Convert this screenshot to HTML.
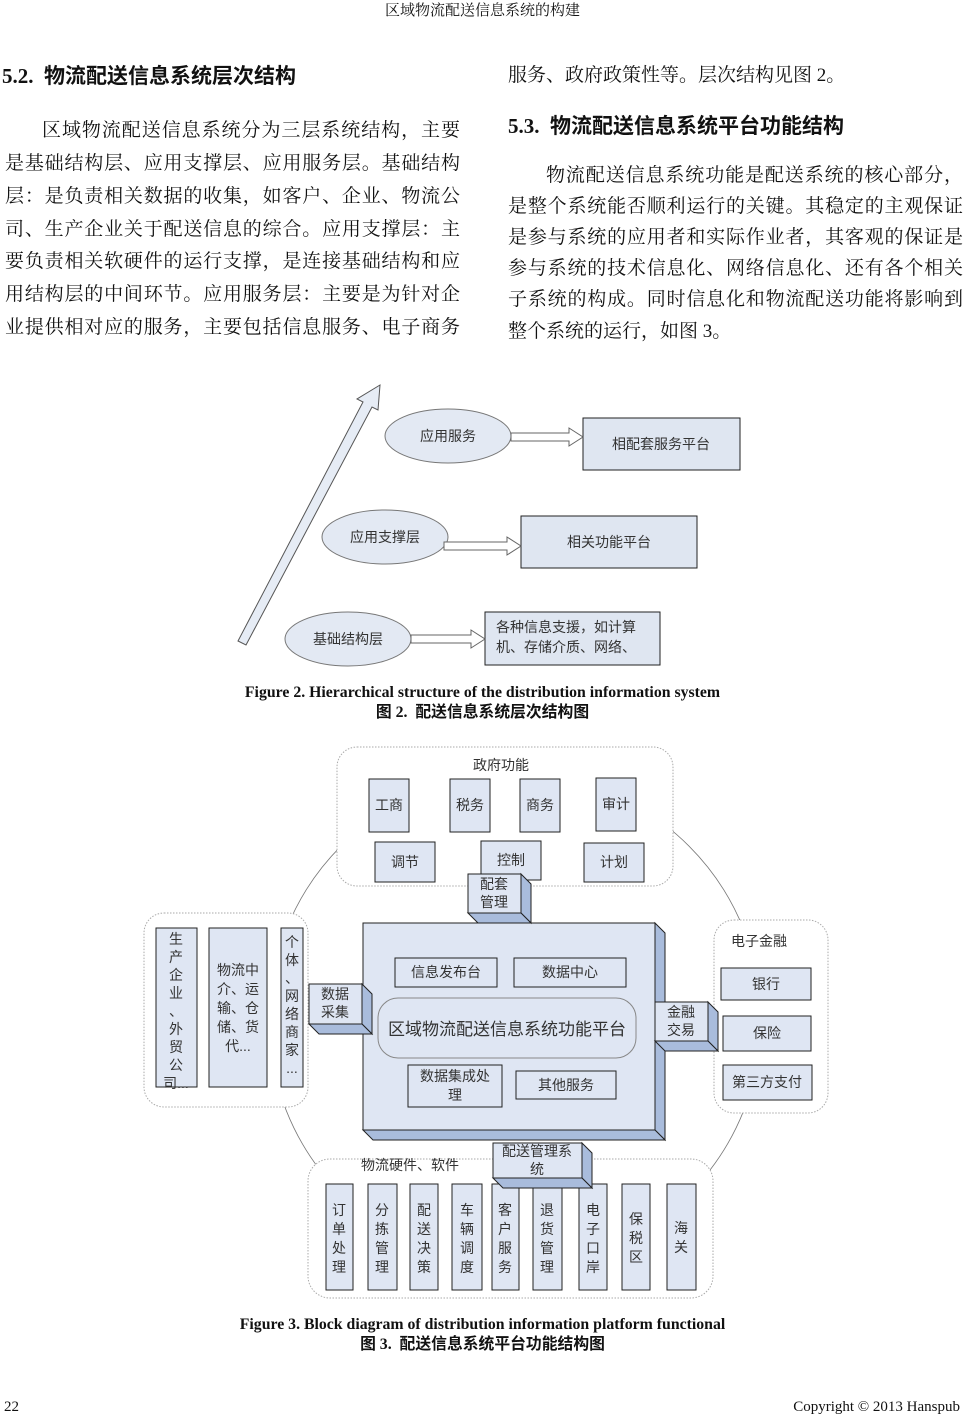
<!DOCTYPE html>
<html><head><meta charset="utf-8"><style>
body{margin:0;width:965px;height:1414px;position:relative;background:#fff;overflow:hidden;font-family:"Liberation Serif","Noto Serif CJK SC",serif;color:#111}
.l{position:absolute;font-size:19px;line-height:22px;white-space:nowrap;height:22px}
.j{text-align:justify;text-align-last:justify;white-space:normal;overflow:hidden}
.h{position:absolute;font-family:"Liberation Serif","Noto Sans CJK SC",sans-serif;font-weight:bold;font-size:21px;line-height:24px;white-space:nowrap}
.c{position:absolute;left:0;width:965px;text-align:center;font-weight:bold;font-size:15.8px;line-height:18px;font-family:"Liberation Serif","Noto Sans CJK SC",serif}
svg{position:absolute;left:0;top:0}
svg text{font-family:"Liberation Sans","Noto Sans CJK SC",sans-serif;fill:#333;font-size:14px}
</style></head><body>
<div class="l" style="left:0;width:965px;text-align:center;top:0;font-size:15px">区域物流配送信息系统的构建</div>
<div class="h" style="left:2px;top:64px">5.2.&nbsp; 物流配送信息系统层次结构</div>
<div class="h" style="left:508px;top:114px">5.3.&nbsp; 物流配送信息系统平台功能结构</div>
<div class="l j" style="left:42px;width:418px;top:120px">区域物流配送信息系统分为三层系统结构，主要</div>
<div class="l j" style="left:5px;width:455px;top:153px">是基础结构层、应用支撑层、应用服务层。基础结构</div>
<div class="l j" style="left:5px;width:455px;top:186px">层：是负责相关数据的收集，如客户、企业、物流公</div>
<div class="l j" style="left:5px;width:455px;top:219px">司、生产企业关于配送信息的综合。应用支撑层：主</div>
<div class="l j" style="left:5px;width:455px;top:251px">要负责相关软硬件的运行支撑，是连接基础结构和应</div>
<div class="l j" style="left:5px;width:455px;top:284px">用结构层的中间环节。应用服务层：主要是为针对企</div>
<div class="l j" style="left:5px;width:455px;top:317px">业提供相对应的服务，主要包括信息服务、电子商务</div>
<div class="l" style="left:508px;top:65px">服务、政府政策性等。层次结构见图 2。</div>
<div class="l j" style="left:546px;width:417px;top:165px">物流配送信息系统功能是配送系统的核心部分，</div>
<div class="l j" style="left:508px;width:455px;top:196px">是整个系统能否顺利运行的关键。其稳定的主观保证</div>
<div class="l j" style="left:508px;width:455px;top:227px">是参与系统的应用者和实际作业者，其客观的保证是</div>
<div class="l j" style="left:508px;width:455px;top:258px">参与系统的技术信息化、网络信息化、还有各个相关</div>
<div class="l j" style="left:508px;width:455px;top:289px">子系统的构成。同时信息化和物流配送功能将影响到</div>
<div class="l" style="left:508px;top:321px">整个系统的运行，如图 3。</div>

<svg width="965" height="1414" viewBox="0 0 965 1414">
<g stroke="#222" stroke-width="1">
<polygon points="246,645 372,407 378,410 380,385 357,399 363,402 238,641" fill="#e6ecf5" stroke="#555"/>
<ellipse cx="448" cy="436" rx="63" ry="27" fill="#e3e9f3" stroke="#777"/>
<ellipse cx="385" cy="537" rx="63" ry="27" fill="#e3e9f3" stroke="#777"/>
<ellipse cx="348" cy="639" rx="63" ry="27" fill="#e3e9f3" stroke="#777"/>
<rect x="583" y="418" width="157" height="52" fill="#dfe6f1"/>
<rect x="521" y="516" width="176" height="52" fill="#dfe6f1"/>
<rect x="485" y="612" width="175" height="53" fill="#dfe6f1"/>
<polygon points="511,433 569,433 569,428 583,437 569,446 569,441 511,441" fill="#fff" stroke="#666"/>
<polygon points="444,542 507,542 507,537 521,546 507,555 507,550 444,550" fill="#fff" stroke="#666"/>
<polygon points="411,635 471,635 471,630 485,639 471,648 471,643 411,643" fill="#fff" stroke="#666"/>
</g>
<text x="448" y="441" text-anchor="middle">应用服务</text>
<text x="661" y="449" text-anchor="middle">相配套服务平台</text>
<text x="385" y="542" text-anchor="middle">应用支撑层</text>
<text x="609" y="547" text-anchor="middle">相关功能平台</text>
<text x="348" y="644" text-anchor="middle">基础结构层</text>
<text x="496" y="632">各种信息支援，如计算</text>
<text x="496" y="652">机、存储介质、网络、</text>

<circle cx="515" cy="1020" r="246" fill="none" stroke="#777" stroke-width="0.8"/>
<g stroke="#aaa" stroke-width="1" stroke-dasharray="1.5,1.5">
<rect x="337" y="747" width="336" height="139" rx="20" fill="#fff"/>
<rect x="144" y="913" width="164" height="194" rx="20" fill="#fff"/>
<rect x="714" y="920" width="114" height="193" rx="20" fill="#fff"/>
<rect x="308" y="1159" width="405" height="139" rx="22" fill="#fff"/>
</g>
<g stroke="#222" stroke-width="1" fill="#dfe6f3">
<rect x="369" y="779" width="40" height="53"/>
<rect x="450" y="779" width="40" height="53"/>
<rect x="520" y="779" width="40" height="53"/>
<rect x="596" y="778" width="40" height="53"/>
<rect x="375" y="842" width="60" height="40"/>
<rect x="481" y="841" width="60" height="39"/>
<rect x="584" y="843" width="60" height="39"/>
<rect x="156" y="928" width="41" height="159"/>
<rect x="209" y="928" width="58" height="159"/>
<rect x="281" y="928" width="22" height="159"/>
<rect x="721" y="968" width="90" height="32"/>
<rect x="723" y="1016" width="88" height="35"/>
<rect x="723" y="1065" width="89" height="35"/>
<rect x="326" y="1184" width="27" height="106"/>
<rect x="368" y="1184" width="29" height="106"/>
<rect x="410" y="1184" width="28" height="106"/>
<rect x="452" y="1184" width="30" height="106"/>
<rect x="492" y="1184" width="27" height="106"/>
<rect x="533" y="1184" width="29" height="106"/>
<rect x="579" y="1184" width="28" height="106"/>
<rect x="622" y="1184" width="28" height="106"/>
<rect x="667" y="1184" width="29" height="106"/>
</g>
<g stroke="#222" stroke-width="1">
<polygon points="655,923 665,933 665,1140 655,1130" fill="#a9bcdc"/>
<polygon points="363,1130 655,1130 665,1140 373,1140" fill="#a9bcdc"/>
<rect x="363" y="923" width="292" height="207" fill="#dfe6f3"/>
<polygon points="521,874 531,884 531,923 521,913" fill="#a9bcdc"/>
<polygon points="468,913 521,913 531,923 478,923" fill="#a9bcdc"/>
<rect x="468" y="874" width="53" height="39" fill="#dfe6f3"/>
<polygon points="362,984 372,994 372,1034 362,1024" fill="#a9bcdc"/>
<polygon points="309,1024 362,1024 372,1034 319,1034" fill="#a9bcdc"/>
<rect x="309" y="984" width="53" height="40" fill="#dfe6f3"/>
<polygon points="708,1002 718,1012 718,1051 708,1041" fill="#a9bcdc"/>
<polygon points="655,1041 708,1041 718,1051 665,1051" fill="#a9bcdc"/>
<rect x="655" y="1002" width="53" height="39" fill="#dfe6f3"/>
<polygon points="582,1143 592,1153 592,1188 582,1178" fill="#a9bcdc"/>
<polygon points="493,1178 582,1178 592,1188 503,1188" fill="#a9bcdc"/>
<rect x="493" y="1143" width="89" height="35" fill="#dfe6f3"/>
<rect x="395" y="958" width="102" height="29" fill="#dfe6f3"/>
<rect x="514" y="958" width="112" height="29" fill="#dfe6f3"/>
<rect x="378" y="998" width="258" height="60" rx="20" fill="#dfe6f3" stroke="#888"/>
<rect x="408" y="1065" width="94" height="42" fill="#dfe6f3"/>
<rect x="516" y="1071" width="100" height="28" fill="#dfe6f3"/>
</g>
<text x="501" y="770" text-anchor="middle">政府功能</text>
<text x="389" y="810" text-anchor="middle">工商</text>
<text x="470" y="810" text-anchor="middle">税务</text>
<text x="540" y="810" text-anchor="middle">商务</text>
<text x="616" y="809" text-anchor="middle">审计</text>
<text x="405" y="867" text-anchor="middle">调节</text>
<text x="511" y="865" text-anchor="middle">控制</text>
<text x="614" y="867" text-anchor="middle">计划</text>
<text x="494" y="889" text-anchor="middle">配套</text>
<text x="494" y="907" text-anchor="middle">管理</text>
<text x="335" y="999" text-anchor="middle">数据</text>
<text x="335" y="1017" text-anchor="middle">采集</text>
<text x="681" y="1017" text-anchor="middle">金融</text>
<text x="681" y="1035" text-anchor="middle">交易</text>
<text x="446" y="977" text-anchor="middle">信息发布台</text>
<text x="570" y="977" text-anchor="middle">数据中心</text>
<text x="507" y="1035" text-anchor="middle" style="font-size:17px">区域物流配送信息系统功能平台</text>
<text x="455" y="1081" text-anchor="middle">数据集成处</text>
<text x="455" y="1100" text-anchor="middle">理</text>
<text x="566" y="1090" text-anchor="middle">其他服务</text>
<text x="759" y="946" text-anchor="middle">电子金融</text>
<text x="766" y="989" text-anchor="middle">银行</text>
<text x="767" y="1038" text-anchor="middle">保险</text>
<text x="767" y="1087" text-anchor="middle">第三方支付</text>
<text x="410" y="1170" text-anchor="middle">物流硬件、软件</text>
<text x="537" y="1156" text-anchor="middle">配送管理系</text>
<text x="537" y="1174" text-anchor="middle">统</text>
<g text-anchor="middle">
<text x="176" y="944"><tspan x="176">生</tspan><tspan x="176" dy="18">产</tspan><tspan x="176" dy="18">企</tspan><tspan x="176" dy="18">业</tspan><tspan x="176" dy="18">、</tspan><tspan x="176" dy="18">外</tspan><tspan x="176" dy="18">贸</tspan><tspan x="176" dy="18">公</tspan><tspan x="176" dy="18">司...</tspan></text>
<text x="238" y="975"><tspan x="238">物流中</tspan><tspan x="238" dy="19">介、运</tspan><tspan x="238" dy="19">输、仓</tspan><tspan x="238" dy="19">储、货</tspan><tspan x="238" dy="19">代...</tspan></text>
<text x="292" y="947"><tspan x="292">个</tspan><tspan x="292" dy="18">体</tspan><tspan x="292" dy="18">、</tspan><tspan x="292" dy="18">网</tspan><tspan x="292" dy="18">络</tspan><tspan x="292" dy="18">商</tspan><tspan x="292" dy="18">家</tspan><tspan x="292" dy="18">...</tspan></text>
<text y="1215"><tspan x="339">订</tspan><tspan x="339" dy="19">单</tspan><tspan x="339" dy="19">处</tspan><tspan x="339" dy="19">理</tspan></text>
<text y="1215"><tspan x="382">分</tspan><tspan x="382" dy="19">拣</tspan><tspan x="382" dy="19">管</tspan><tspan x="382" dy="19">理</tspan></text>
<text y="1215"><tspan x="424">配</tspan><tspan x="424" dy="19">送</tspan><tspan x="424" dy="19">决</tspan><tspan x="424" dy="19">策</tspan></text>
<text y="1215"><tspan x="467">车</tspan><tspan x="467" dy="19">辆</tspan><tspan x="467" dy="19">调</tspan><tspan x="467" dy="19">度</tspan></text>
<text y="1215"><tspan x="505">客</tspan><tspan x="505" dy="19">户</tspan><tspan x="505" dy="19">服</tspan><tspan x="505" dy="19">务</tspan></text>
<text y="1215"><tspan x="547">退</tspan><tspan x="547" dy="19">货</tspan><tspan x="547" dy="19">管</tspan><tspan x="547" dy="19">理</tspan></text>
<text y="1215"><tspan x="593">电</tspan><tspan x="593" dy="19">子</tspan><tspan x="593" dy="19">口</tspan><tspan x="593" dy="19">岸</tspan></text>
<text y="1224"><tspan x="636">保</tspan><tspan x="636" dy="19">税</tspan><tspan x="636" dy="19">区</tspan></text>
<text y="1233"><tspan x="681">海</tspan><tspan x="681" dy="19">关</tspan></text>
</g>
</svg>
<div class="c" style="top:684px">Figure 2. Hierarchical structure of the distribution information system</div>
<div class="c" style="top:704px">图 2.&nbsp; 配送信息系统层次结构图</div>
<div class="c" style="top:1316px">Figure 3. Block diagram of distribution information platform functional</div>
<div class="c" style="top:1336px">图 3.&nbsp; 配送信息系统平台功能结构图</div>
<div class="l" style="left:4px;top:1396px;font-size:15px">22</div>
<div class="l" style="right:5px;top:1396px;font-size:15px">Copyright © 2013 Hanspub</div>
</body></html>
